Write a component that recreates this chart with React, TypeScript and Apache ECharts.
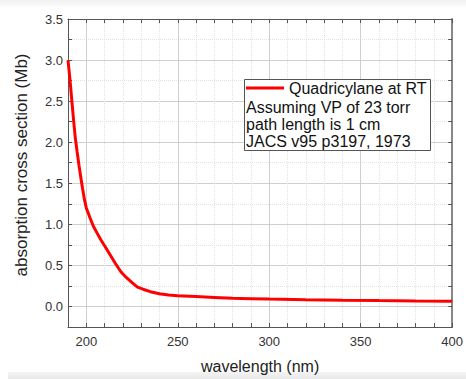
import React, { useEffect, useRef } from "react";
import * as echarts from "echarts";

// Absorption cross section of quadricyclane vs wavelength
const wavelengths = [
  190, 191, 192, 193, 194, 195, 196, 197, 198, 199, 200, 201, 202, 204, 206, 208, 210, 213,
  216, 219, 222, 225, 228, 231, 235, 240, 245, 250, 260, 270, 280, 290, 300, 320, 340, 360,
  380, 400,
];
const crossSection = [
  3.0, 2.78, 2.53, 2.28, 2.05, 1.88, 1.72, 1.57, 1.43, 1.3, 1.2, 1.14, 1.08, 0.97, 0.89, 0.81,
  0.74, 0.63, 0.52, 0.42, 0.35, 0.29, 0.235, 0.21, 0.18, 0.155, 0.14, 0.13, 0.12, 0.11, 0.1,
  0.095, 0.09, 0.083, 0.077, 0.072, 0.068, 0.065,
];
const seriesName = "Quadricylane at RT";
const noteLines = ["Assuming VP of 23 torr", "path length is 1 cm", "JACS v95 p3197, 1973"];
const yTitle = "absorption cross section (Mb)";
const xTitle = "wavelength (nm)";

const FONT = "Liberation Sans, Arial, sans-serif";
const MAJOR = "#cfcfcf";
const MINOR = "#e2e2e2";
const FRAME = "#555555";

export default function App() {
  const ref = useRef<HTMLDivElement>(null);

  useEffect(() => {
    if (!ref.current) return;
    const chart = echarts.init(ref.current, undefined, { renderer: "svg" });

    const xCommon = {
      type: "value" as const,
      min: 190,
      max: 400,
      interval: 10,
      axisLine: { show: true, onZero: false, lineStyle: { color: FRAME, width: 1 } },
      axisTick: { show: true, inside: true, length: 4, lineStyle: { color: FRAME } },
    };
    const yCommon = {
      type: "value" as const,
      min: -0.25,
      max: 3.5,
      interval: 0.25,
      axisLine: { show: true, onZero: false, lineStyle: { color: FRAME, width: 1 } },
      axisTick: { show: true, inside: true, length: 4, lineStyle: { color: FRAME } },
    };

    chart.setOption({
      animation: false,
      backgroundColor: "transparent",
      grid: { left: 68, top: 19, right: 7, bottom: 45, containLabel: false },
      legend: {
        show: true,
        left: 246,
        top: 79,
        padding: 0,
        icon: "rect",
        itemWidth: 38,
        itemHeight: 3,
        itemGap: 0,
        textStyle: { fontFamily: FONT, fontSize: 16, color: "#111", lineHeight: 18 },
        data: [seriesName],
        z: 10,
      },
      xAxis: [
        {
          ...xCommon,
          position: "bottom",
          name: xTitle,
          nameLocation: "middle",
          nameGap: 31,
          nameTextStyle: { fontFamily: FONT, fontSize: 16, color: "#222" },
          axisLabel: {
            fontFamily: FONT,
            fontSize: 13,
            color: "#333",
            margin: 8,
            formatter: (v: number) => (Math.round(v) % 50 === 0 ? String(Math.round(v)) : ""),
          },
          splitLine: {
            show: true,
            lineStyle: { type: "dotted", width: 1, color: [MINOR, "transparent", MINOR, MINOR, MINOR] },
          },
        },
        {
          ...xCommon,
          position: "top",
          axisLabel: { show: false },
          splitLine: {
            show: true,
            lineStyle: {
              type: "solid",
              width: 1,
              color: ["transparent", MAJOR, "transparent", "transparent", "transparent"],
            },
          },
        },
      ],
      yAxis: [
        {
          ...yCommon,
          position: "left",
          axisLabel: {
            fontFamily: FONT,
            fontSize: 13,
            color: "#333",
            margin: 5,
            formatter: (v: number) => (Math.round(v * 4) % 2 === 0 ? v.toFixed(1) : ""),
          },
          splitLine: {
            show: true,
            lineStyle: { type: "dotted", width: 1, color: [MINOR, "transparent"] },
          },
        },
        {
          ...yCommon,
          position: "right",
          axisLine: { show: true, onZero: false, lineStyle: { color: "#888", width: 2 } },
          axisLabel: { show: false },
          splitLine: {
            show: true,
            lineStyle: { type: "solid", width: 1, color: ["transparent", MAJOR] },
          },
        },
      ],
      series: [
        {
          name: seriesName,
          type: "line",
          xAxisIndex: 0,
          yAxisIndex: 0,
          data: wavelengths.map((w, i) => [w, crossSection[i]]),
          showSymbol: false,
          smooth: false,
          lineStyle: { color: "#ff0000", width: 3 },
          itemStyle: { color: "#ff0000" },
          z: 5,
        },
      ],
      graphic: [
        {
          type: "text",
          x: 21,
          y: 165,
          rotation: Math.PI / 2,
          style: {
            text: yTitle,
            fontFamily: FONT,
            fontSize: 17,
            fill: "#222",
            align: "center",
            verticalAlign: "middle",
          },
        },
        {
          type: "rect",
          shape: { x: 244.5, y: 79.5, width: 186, height: 71 },
          style: { fill: "#ffffff", stroke: FRAME, lineWidth: 1 },
          z: 1,
        },
        ...noteLines.map((t, i) => ({
          type: "text",
          x: 246,
          y: 107 + i * 17.3,
          z: 10,
          style: {
            text: t,
            fontFamily: FONT,
            fontSize: 16,
            fill: "#111",
            verticalAlign: "middle",
          },
        })),
      ],
    });

    return () => chart.dispose();
  }, []);

  return (
    <div
      style={{
        position: "fixed",
        left: 0,
        top: 0,
        width: 466,
        height: 379,
        background: "#ffffff",
        overflow: "hidden",
      }}
    >
      <div
        style={{
          position: "absolute",
          left: 0,
          top: 0,
          width: 466,
          height: 7,
          background: "linear-gradient(#f1f1f1, #fbfbfb)",
        }}
      />
      <div
        style={{
          position: "absolute",
          left: 8,
          top: 372,
          width: 458,
          height: 7,
          background: "linear-gradient(#f3f3f3, #e9e9e9)",
        }}
      />
      <div ref={ref} style={{ position: "absolute", left: 0, top: 0, width: 466, height: 379 }} />
    </div>
  );
}
